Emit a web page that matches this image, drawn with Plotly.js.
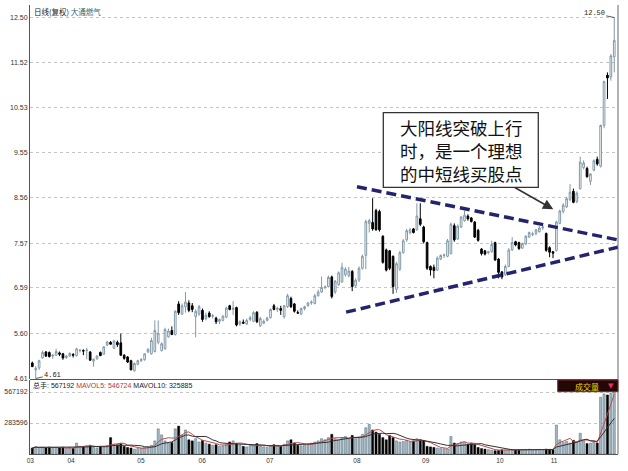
<!DOCTYPE html>
<html><head><meta charset="utf-8">
<script src="https://cdn.plot.ly/plotly-3.0.1.min.js"></script>
<style>html,body{margin:0;padding:0;background:#fff;}#chart{width:628px;height:471px;}</style>
</head><body><div id="chart"></div>
<script>
const open = [4.95,4.80,4.84,5.06,5.19,5.18,5.10,5.12,5.17,5.15,5.07,5.10,5.14,5.11,5.22,5.22,5.22,5.19,4.99,5.04,
5.18,5.14,5.34,5.40,5.27,5.40,5.39,5.12,5.08,5.00,4.78,4.92,5.00,5.02,5.19,5.15,5.20,5.40,5.22,5.26,
5.52,5.66,5.57,6.24,6.02,6.18,6.26,6.20,5.96,6.02,6.10,5.92,6.04,5.97,5.93,5.86,5.88,5.95,6.20,6.12,
6.16,5.80,5.84,5.80,5.90,5.86,6.06,5.76,5.82,5.88,5.94,6.20,6.12,6.14,5.96,6.18,6.36,6.24,6.05,6.02,
6.14,6.20,6.26,6.25,6.42,6.50,6.60,6.62,6.83,6.50,6.66,6.72,6.88,6.86,6.95,6.64,6.76,7.02,7.30,8.00,
8.02,8.28,8.26,7.72,7.42,7.40,7.28,6.56,7.00,7.36,7.64,7.80,7.88,7.86,8.10,7.92,7.58,7.06,7.04,6.98,
7.22,7.30,7.28,7.34,7.95,7.66,7.92,8.06,8.16,8.12,8.03,7.85,7.44,7.40,7.36,7.38,7.58,7.22,6.94,6.88,
7.06,7.42,7.60,7.58,7.46,7.55,7.70,7.76,7.78,7.82,7.90,7.78,7.47,7.38,7.41,8.00,8.26,8.36,8.52,8.70,
8.48,8.76,9.22,9.20,8.92,9.16,9.40,9.25,10.14,11.24,11.20,11.64];
const high = [4.98,4.88,5.02,5.22,5.21,5.20,5.14,5.26,5.20,5.17,5.12,5.18,5.16,5.28,5.25,5.25,5.28,5.21,5.05,5.12,
5.20,5.32,5.43,5.43,5.46,5.44,5.59,5.14,5.10,5.02,4.96,5.02,5.05,5.16,5.27,5.50,5.88,5.88,5.40,5.72,
5.70,5.75,6.10,6.30,6.25,6.50,6.32,6.26,6.12,6.22,6.14,6.05,6.08,6.02,5.96,5.92,6.00,6.18,6.22,6.30,
6.18,5.88,5.90,5.92,5.98,6.08,6.08,5.96,5.90,5.96,6.14,6.24,6.18,6.20,6.22,6.46,6.40,6.26,6.10,6.16,
6.20,6.28,6.32,6.46,6.55,6.84,6.64,6.86,6.86,6.76,6.95,7.14,7.04,7.05,6.98,6.80,7.06,7.32,8.08,8.10,
8.55,8.32,8.30,7.74,7.45,7.42,7.30,7.16,7.40,7.66,7.88,7.90,7.90,8.44,8.44,7.95,7.60,7.08,7.10,7.28,
7.32,7.34,7.66,8.02,8.00,7.98,8.16,8.28,8.20,8.14,8.05,7.88,7.46,7.42,7.40,7.62,7.60,7.24,6.96,7.10,
7.46,7.70,7.62,7.60,7.58,7.74,7.82,7.82,7.88,7.94,7.96,7.80,7.50,7.40,8.06,8.30,8.44,8.58,8.86,8.76,
8.70,9.46,9.38,9.24,9.10,9.40,9.46,10.16,11.12,11.30,11.70,12.50];
const low = [4.86,4.61,4.80,5.05,5.08,5.07,5.04,5.10,5.10,5.02,5.04,5.08,5.07,5.09,5.18,5.12,5.03,5.00,4.87,5.02,
5.10,5.13,5.32,5.35,5.25,5.30,5.10,5.02,4.95,4.79,4.76,4.90,4.97,5.00,5.17,5.13,5.18,5.36,5.20,5.24,
5.50,5.56,5.55,6.00,6.00,6.05,6.06,6.06,5.51,5.98,5.85,5.88,5.94,5.92,5.80,5.80,5.86,5.93,6.10,6.00,
5.75,5.76,5.80,5.78,5.86,5.84,5.82,5.74,5.80,5.86,5.92,6.10,6.06,6.00,5.92,6.15,6.15,6.05,6.02,6.00,
6.10,6.18,6.22,6.23,6.40,6.48,6.56,6.60,6.36,6.46,6.64,6.70,6.84,6.82,6.52,6.60,6.72,6.99,7.00,7.80,
7.84,7.84,7.82,7.12,6.95,6.98,6.46,6.48,6.96,7.34,7.60,7.76,7.78,7.84,7.94,7.56,6.98,6.86,6.80,6.96,
7.20,7.24,7.26,7.32,7.60,7.64,7.90,8.04,8.06,8.02,7.68,7.60,7.30,7.30,7.32,7.36,7.18,6.80,6.78,6.85,
7.04,7.40,7.50,7.42,7.44,7.53,7.68,7.72,7.74,7.80,7.86,7.38,7.26,7.24,7.38,7.98,8.22,8.34,8.48,8.44,
8.44,8.74,9.18,9.00,8.84,9.14,9.26,9.22,10.08,10.72,11.12,11.30];
const close = [4.87,4.83,5.00,5.18,5.10,5.09,5.12,5.20,5.14,5.06,5.10,5.16,5.12,5.26,5.23,5.21,5.23,5.01,5.03,5.10,
5.11,5.30,5.41,5.36,5.43,5.35,5.12,5.05,4.97,4.80,4.94,5.00,5.03,5.15,5.25,5.44,5.66,5.60,5.37,5.68,
5.65,5.57,6.08,6.05,6.20,6.28,6.10,6.12,6.08,6.18,5.90,5.99,5.96,5.98,5.85,5.90,5.97,6.15,6.12,6.15,
5.78,5.85,5.82,5.88,5.94,6.05,5.85,5.92,5.86,5.93,6.12,6.12,6.14,6.10,6.20,6.42,6.18,6.08,6.04,6.14,
6.18,6.26,6.28,6.42,6.50,6.60,6.61,6.82,6.40,6.74,6.92,7.04,7.00,6.96,6.62,6.76,7.02,7.28,8.04,8.06,
7.88,7.86,7.86,7.15,6.98,7.02,6.62,7.12,7.36,7.62,7.84,7.86,7.80,8.16,7.98,7.60,7.02,6.98,6.97,7.24,
7.30,7.31,7.62,7.98,7.64,7.94,8.14,8.18,8.10,8.04,7.70,7.63,7.34,7.33,7.38,7.54,7.20,6.93,6.83,7.06,
7.42,7.58,7.53,7.45,7.56,7.72,7.80,7.77,7.86,7.90,7.92,7.41,7.37,7.35,8.03,8.27,8.40,8.54,8.68,8.46,
8.66,9.34,9.32,9.02,9.08,9.37,9.30,10.14,11.10,11.18,11.66,12.00];
const volume = [55000,68000,60000,62000,58000,64000,50000,60000,55000,62000,50000,58000,52000,
100000,70000,65000,75000,80000,60000,55000,70000,65000,75000,150000,90000,85000,
95000,70000,60000,55000,45000,50000,
55000,60000,65000,80000,120000,
230000,175000,120000,100000,105000,
230000,255000,175000,220000,130000,120000,140000,110000,125000,
100000,90000,80000,85000,70000,75000,90000,110000,120000,100000,85000,70000,65000,75000,80000,95000,70000,65000,60000,
75000,85000,80000,70000,90000,120000,130000,100000,80000,75000,85000,90000,100000,110000,120000,140000,
130000,150000,180000,140000,130000,150000,160000,140000,170000,140000,150000,180000,240000,270000,220000,
200000,180000,150000,130000,170000,150000,120000,110000,115000,125000,110000,120000,140000,130000,120000,
70000,65000,60000,55000,50000,48000,45000,160000,
100000,95000,110000,105000,90000,100000,85000,60000,
50000,45000,40000,35000,30000,32000,
38000,35000,40000,42000,38000,36000,40000,42000,44000,40000,38000,42000,40000,45000,42000,40000,
265000,130000,105000,115000,100000,125000,110000,190000,
120000,95000,100000,110000,100230,
520000,550000,540000,556428,567192];
const monthLabels = ['03','04','05','06','07','08','09','10','11'];
const monthPos = [-0.6,11.4,31.9,49.9,69.8,95.4,115.6,137.4,153.3];
const priceTicks = [4.61,5.60,6.59,7.57,8.56,9.55,10.53,11.52,12.50];
const volTicks = [283596,567192];
const trendUpperX = [95.4,172.1], trendUpperY = [8.80,7.64];
const trendLowerX = [92.2,172.1], trendLowerY = [6.06,7.48];
const noteLines = ['大阳线突破上行','时，是一个理想','的中短线买股点'];

const idx = close.map((_, i) => i);
function ma(arr, n){ return arr.map((_, i) => { const s = arr.slice(Math.max(0, i-n+1), i+1); return s.reduce((a,b)=>a+b,0)/s.length; }); }
const ma5 = ma(volume, 5), ma10 = ma(volume, 10);
const last = close.length - 1;
const upCol = '#8199a8';
const volColors = close.map((c,i) => c >= open[i] ? '#a3bac6' : '#000000');
const volLine = close.map((c,i) => c >= open[i] ? '#4f6875' : '#000000');
const hiVal = Math.max(...high), hiIdx = high.indexOf(hiVal);
const loVal = Math.min(...low), loIdx = low.indexOf(loVal);

const P = (px) => (px - 30) / 588, Q = (py) => (454 - py) / 449;

const traces = [
 {type:'candlestick', x:idx, open:open, high:high, low:low, close:close, xaxis:'x', yaxis:'y',
  increasing:{line:{color:upCol, width:1}, fillcolor:'#ffffff'},
  decreasing:{line:{color:'#000000', width:1}, fillcolor:'#000000'},
  whiskerwidth:0, hoverinfo:'skip', showlegend:false},
 {type:'scatter', mode:'lines', x:trendUpperX, y:trendUpperY, xaxis:'x', yaxis:'y',
  line:{color:'#24246e', width:3.5, dash:'10px,5px'}, showlegend:false, hoverinfo:'skip'},
 {type:'scatter', mode:'lines', x:trendLowerX, y:trendLowerY, xaxis:'x', yaxis:'y',
  line:{color:'#24246e', width:3.5, dash:'10px,5px'}, showlegend:false, hoverinfo:'skip'},
 {type:'bar', x:idx, y:volume, xaxis:'x2', yaxis:'y2', width:0.62,
  marker:{color:volColors, line:{color:volLine, width:0.5}}, showlegend:false, hoverinfo:'skip'},
 {type:'scatter', mode:'lines', x:idx, y:ma5, xaxis:'x2', yaxis:'y2', line:{color:'#c24a4a', width:1}, showlegend:false, hoverinfo:'skip'},
 {type:'scatter', mode:'lines', x:idx, y:ma10, xaxis:'x2', yaxis:'y2', line:{color:'#333333', width:1}, showlegend:false, hoverinfo:'skip'}
];

const fmt = (v) => Math.round(v).toString();
const annotations = [
 {xref:'paper', yref:'paper', x:P(31.5), y:Q(11.7), xanchor:'left', yanchor:'middle', showarrow:false,
  text:'<span style="color:#222">日线(复权)</span> <span style="color:#2a6478">大通燃气</span>',
  font:{family:'Noto Sans CJK SC', size:7.5}},
 {xref:'paper', yref:'paper', x:P(31), y:Q(385.7), xanchor:'left', yanchor:'middle', showarrow:false,
  text:'<span style="color:#222">总手: '+fmt(volume[last])+'</span> <span style="color:#b83a3a">MAVOL5: '+fmt(ma5[last])+'</span> <span style="color:#222">MAVOL10: '+fmt(ma10[last])+'</span>',
  font:{family:'Liberation Sans, Noto Sans CJK SC', size:7}},
 {xref:'paper', yref:'paper', x:P(586.5), y:Q(386), xanchor:'center', yanchor:'middle', showarrow:false,
  text:'成交量', font:{family:'Noto Sans CJK SC', size:8, color:'#e6dc00'}},
 {xref:'paper', yref:'paper', x:P(611), y:Q(385.5), xanchor:'center', yanchor:'middle', showarrow:false,
  text:'▼', font:{family:'DejaVu Sans', size:7, color:'#e8305a'}},
 {xref:'x', yref:'y', x:hiIdx, y:hiVal, text:hiVal.toFixed(2), showarrow:true, arrowhead:0, arrowwidth:0.8, arrowcolor:'#333',
  ax:-20, ay:-4, font:{family:'Liberation Mono', size:7, color:'#222'}},
 {xref:'x', yref:'y', x:loIdx, y:loVal, text:loVal.toFixed(2), showarrow:true, arrowhead:0, arrowwidth:0.8, arrowcolor:'#333',
  ax:17, ay:-4, font:{family:'Liberation Mono', size:7, color:'#222'}},
 {xref:'paper', yref:'paper', x:P(553.3), y:Q(209.3), ax:-40, ay:-22.6, text:'', showarrow:true,
  arrowhead:2, arrowsize:1.3, arrowwidth:1.6, arrowcolor:'#333'},
 {xref:'paper', yref:'paper', x:P(461), y:Q(150.6), xanchor:'center', yanchor:'middle', showarrow:false, align:'center',
  text:noteLines.join('<br>'), font:{family:'Noto Sans CJK SC', size:17.5, color:'#111'}}
];

const shapes = [
 {type:'rect', xref:'paper', yref:'paper', x0:P(383.3), x1:P(538.3), y0:Q(187.3), y1:Q(112.7), line:{color:'#333', width:1.3}, fillcolor:'#ffffff', layer:'above'},
 {type:'line', xref:'paper', yref:'paper', x0:0, x1:1, y0:Q(379.5), y1:Q(379.5), line:{color:'#555', width:1}},
 {type:'line', xref:'paper', yref:'paper', x0:1, x1:1, y0:0, y1:1, line:{color:'#666', width:1}},
 {type:'rect', xref:'paper', yref:'paper', x0:P(557.7), x1:P(618), y0:Q(391.7), y1:Q(380), line:{color:'#7a2a2a', width:1}, fillcolor:'#240808', layer:'above'}
];

const layout = {
 width:628, height:471, margin:{l:30, r:10, t:5, b:17}, paper_bgcolor:'#fff', plot_bgcolor:'#fff',
 font:{family:'Liberation Sans', size:7, color:'#333'}, showlegend:false, hovermode:false, dragmode:false,
 xaxis:{domain:[0,1], anchor:'y', range:[-0.68,172.1], type:'linear', showticklabels:false, showgrid:false, zeroline:false, showline:false, rangeslider:{visible:false}, ticks:''},
 yaxis:{domain:[0.167,1], anchor:'x', range:[4.599,12.773], tickvals:priceTicks, ticktext:priceTicks.map(v=>v.toFixed(2)),
  showgrid:true, gridcolor:'#c4c4c4', griddash:'dot', gridwidth:1, zeroline:false, showline:true, linecolor:'#555', linewidth:1, ticks:'',
  tickfont:{family:'Liberation Sans', size:7, color:'#333'}},
 xaxis2:{domain:[0,1], anchor:'y2', range:[-0.68,172.1], type:'linear', tickvals:monthPos, ticktext:monthLabels, showgrid:false, zeroline:false,
  showline:true, linecolor:'#555', linewidth:1, ticks:'', tickfont:{family:'Liberation Sans', size:6.5, color:'#333'}},
 yaxis2:{domain:[0,0.1648], anchor:'x2', range:[0,677000], tickvals:volTicks, ticktext:volTicks.map(String),
  showgrid:true, gridcolor:'#c4c4c4', griddash:'dot', gridwidth:1, zeroline:false, showline:true, linecolor:'#555', linewidth:1, ticks:'',
  tickfont:{family:'Liberation Sans', size:7, color:'#333'}},
 bargap:0.3, boxgap:0.3,
 annotations:annotations, shapes:shapes
};
Plotly.newPlot('chart', traces, layout, {staticPlot:true, displayModeBar:false});
</script></body></html>
